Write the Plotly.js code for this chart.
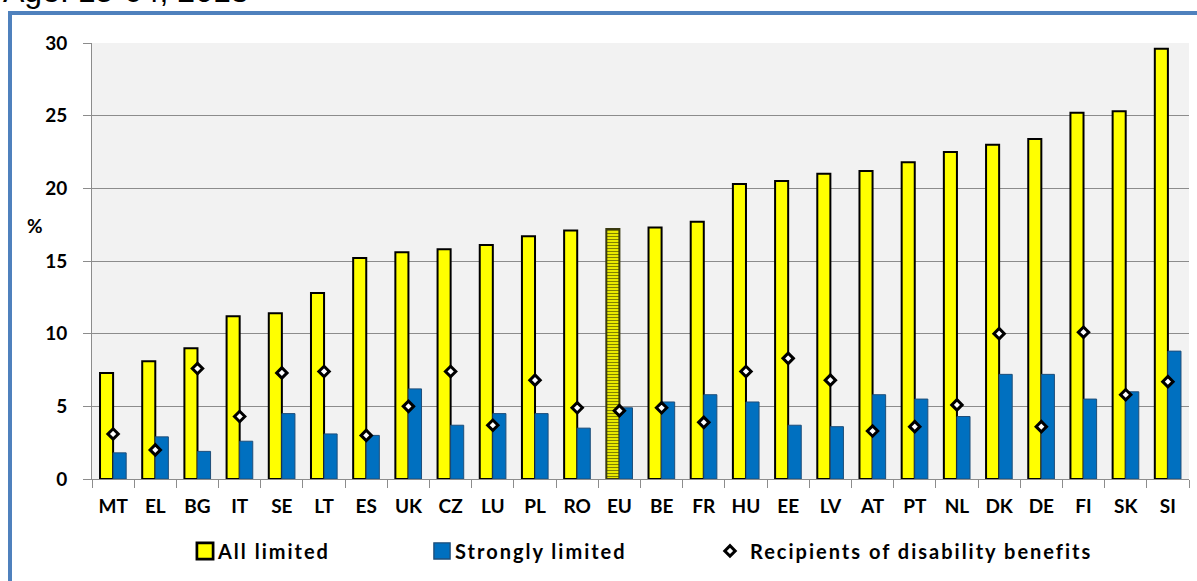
<!DOCTYPE html>
<html>
<head>
<meta charset="utf-8">
<script src="https://cdn.plot.ly/plotly-3.0.1.min.js"></script>
<style>
  html, body { margin: 0; padding: 0; width: 1197px; height: 581px; overflow: hidden; background: #ffffff; }
  #frame { position: absolute; left: 8px; top: 11px; width: 1400px; height: 800px;
           border-left: 4px solid #4F81BD; border-top: 4px solid #4F81BD; }
  #chart { position: absolute; left: 0; top: 0; width: 1197px; height: 581px; }
  #chart text.legendtext, #chart g[class^="legend"] text { letter-spacing: 2px !important; }
  #chart g.scrollbox { clip-path: none !important; }
  #chart g.legendpoints path:not(.scatterpts) { transform: translate(27px, 0px) scale(1.35); }
</style>
</head>
<body>
<div id="frame"></div>
<div id="chart"></div>
<script>
const countries = ["MT","EL","BG","IT","SE","LT","ES","UK","CZ","LU","PL","RO","EU","BE","FR","HU","EE","LV","AT","PT","NL","DK","DE","FI","SK","SI"];
const allLimited = [7.3, 8.1, 9.0, 11.2, 11.4, 12.8, 15.2, 15.6, 15.8, 16.1, 16.7, 17.1, 17.2, 17.3, 17.7, 20.3, 20.5, 21.0, 21.2, 21.8, 22.5, 23.0, 23.4, 25.2, 25.3, 29.6];
const stronglyLimited = [1.8, 2.9, 1.9, 2.6, 4.5, 3.1, 3.0, 6.2, 3.7, 4.5, 4.5, 3.5, 4.9, 5.3, 5.8, 5.3, 3.7, 3.6, 5.8, 5.5, 4.3, 7.2, 7.2, 5.5, 6.0, 8.8];
const benefitRecipients = [3.1, 2.0, 7.6, 4.3, 7.3, 7.4, 3.0, 5.0, 7.4, 3.7, 6.8, 4.9, 4.7, 4.9, 3.9, 7.4, 8.3, 6.8, 3.3, 3.6, 5.1, 10.0, 3.6, 10.1, 5.8, 6.7];
const yTicks = [0, 5, 10, 15, 20, 25, 30];
const titleText = "Age: 15-64, 2013";

const euPattern = countries.map(c => c === "EU" ? "-" : "");
const yellowLine = countries.map(c => c === "EU" ? "#3a3a10" : "#000000");

const labelFont = { family: "Lato, 'Open Sans', sans-serif", size: 19, color: "#000000", weight: 700 };
const legendFont = { family: "Lato, 'Open Sans', sans-serif", size: 20, color: "#000000", weight: 700 };

const traces = [
  {
    type: "bar", name: "All limited", x: countries, y: allLimited,
    marker: { color: "#FFFF00", line: { color: yellowLine, width: 2 },
              pattern: { shape: euPattern, fgcolor: "#000000", bgcolor: "#FFFF00", size: 3, solidity: 0.45, fillmode: "overlay" } },
    legend: "legend"
  },
  {
    type: "bar", name: "Strongly limited", x: countries, y: stronglyLimited,
    marker: { color: "#0070C0", line: { color: "#1F4E79", width: 1 } },
    legend: "legend2"
  },
  {
    type: "scatter", mode: "markers", name: "Recipients of disability benefits", x: countries, y: benefitRecipients,
    marker: { symbol: "diamond", size: 8, color: "#FFFFFF", line: { color: "#000000", width: 3 } },
    legend: "legend3", cliponaxis: false
  }
];

const px = p => (p - 92) / 1097;
const legendBase = { orientation: "h", yanchor: "middle", y: -0.165, xanchor: "left", font: legendFont, bgcolor: "rgba(0,0,0,0)", itemwidth: 30 };

const layout = {
  width: 1197, height: 581,
  margin: { l: 92, r: 8, t: 43, b: 102 },
  paper_bgcolor: "rgba(0,0,0,0)",
  plot_bgcolor: "#F2F2F2",
  barmode: "group", bargap: 0.38, bargroupgap: 0,
  xaxis: {
    type: "category", range: [-0.5, countries.length - 0.5], autorange: false,
    tickson: "boundaries", ticks: "outside", ticklen: 8, tickcolor: "#8C8C8C",
    showline: true, linecolor: "#8C8C8C", linewidth: 1, showgrid: false,
    tickfont: labelFont, ticklabelstandoff: 10
  },
  yaxis: {
    range: [0, 30], autorange: false, tickvals: yTicks, ticks: "outside", ticklen: 8, tickcolor: "#8C8C8C",
    showline: true, linecolor: "#8C8C8C", linewidth: 1,
    showgrid: true, gridcolor: "#8C8C8C", gridwidth: 1, zeroline: false,
    tickfont: labelFont, ticklabelstandoff: 12
  },
  showlegend: true,
  legend: Object.assign({}, legendBase, { x: px(178) }),
  legend2: Object.assign({}, legendBase, { x: px(415) }),
  legend3: Object.assign({}, legendBase, { x: px(710) }),
  annotations: [
    { text: "%", xref: "paper", yref: "paper", x: px(35), y: (479 - 225) / 436, xanchor: "center", yanchor: "middle",
      showarrow: false, font: labelFont },
    { text: titleText, xref: "paper", yref: "paper", x: px(1), y: (479 - 11) / 436, xanchor: "left", yanchor: "bottom",
      showarrow: false, font: { family: "Liberation Sans, Arial, sans-serif", size: 32, color: "#000000" } }
  ]
};

Plotly.newPlot("chart", traces, layout, { staticPlot: true, displayModeBar: false }).then(function (gd) {
  gd.querySelectorAll("text.legendtext").forEach(function (t) { t.style.letterSpacing = "2px"; });
});
</script>
</body>
</html>
